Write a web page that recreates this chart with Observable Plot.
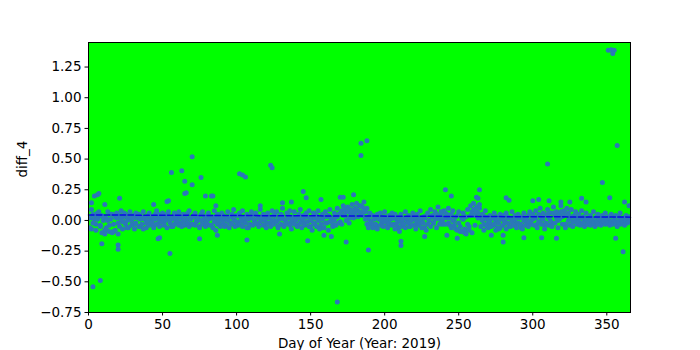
<!DOCTYPE html>
<html>
<head>
<meta charset="utf-8">
<script src="https://cdn.jsdelivr.net/npm/d3@7"></script>
<script src="https://cdn.jsdelivr.net/npm/@observablehq/plot@0.6"></script>
<style>
  html, body { margin: 0; padding: 0; background: white; }
  #chart { width: 700px; height: 350px; }
</style>
</head>
<body>
<div id="chart"></div>
<script>
// Main daily series (two readings per day, day = index + 1)
const diffA = [
0.02,-0.07,0.05,0.01,-0.03,0.06,0.03,-0.05,0.04,0.00,-0.08,0.02,0.07,-0.04,0.01,0.05,-0.09,0.03,0.06,-0.02,0.04,0.08,-0.01,0.03,0.05,-0.06,0.02,0.07,0.00,0.04,
-0.03,0.06,0.02,0.05,-0.05,0.03,0.07,0.01,-0.02,0.04,0.06,0.00,0.03,-0.04,0.05,0.08,0.02,-0.01,0.04,0.06,-0.03,0.02,0.05,0.07,0.01,-0.05,0.03,0.06,0.00,0.04,
0.07,-0.02,0.03,0.05,-0.04,0.01,0.06,0.08,0.02,-0.03,0.04,0.06,0.00,0.03,-0.05,0.05,0.07,0.01,-0.02,0.04,0.06,0.02,-0.04,0.03,0.08,0.00,0.05,-0.03,0.02,0.06,
0.04,-0.05,0.01,0.07,0.03,-0.02,0.05,0.09,0.00,0.04,-0.04,0.06,0.02,0.08,-0.01,0.03,0.05,-0.06,0.02,0.07,0.04,0.00,0.06,-0.03,0.03,0.09,0.01,0.05,-0.04,0.02,
0.06,0.03,-0.02,0.08,0.04,0.00,0.07,-0.05,0.02,0.05,0.10,0.01,-0.03,0.06,0.04,0.08,-0.01,0.03,0.07,0.02,-0.04,0.05,0.09,0.00,0.04,-0.02,0.06,0.03,0.08,-0.05,
0.02,0.06,-0.03,0.04,0.08,0.01,-0.06,0.05,0.03,0.07,-0.02,0.04,0.09,0.00,-0.04,0.06,0.03,0.10,0.05,-0.01,0.08,0.12,0.04,0.07,0.11,0.02,0.09,0.13,0.06,0.10,
0.14,0.08,0.12,0.05,0.11,0.15,0.07,0.10,0.03,0.06,-0.03,0.04,0.02,-0.05,0.05,0.01,0.06,-0.02,0.03,0.07,0.00,-0.04,0.04,0.02,0.06,-0.03,0.05,0.01,-0.06,0.03,
0.05,-0.02,0.02,0.07,0.00,0.04,-0.05,0.03,0.06,0.01,-0.03,0.05,0.02,0.08,-0.01,0.03,-0.06,0.04,0.06,0.00,0.09,0.03,-0.02,0.07,0.05,0.11,0.01,0.04,-0.03,0.08,
0.06,0.02,0.10,-0.04,0.05,0.08,0.00,-0.07,0.04,0.07,-0.09,0.02,0.06,-0.10,0.03,0.09,-0.05,0.12,0.07,0.14,0.04,0.11,0.06,0.13,0.02,0.05,-0.03,0.08,0.01,-0.06,
0.04,0.02,-0.04,0.06,0.00,0.03,-0.07,0.05,0.01,0.04,-0.02,0.06,0.03,-0.05,0.02,0.07,0.00,0.04,-0.03,0.05,0.02,-0.06,0.03,0.06,0.01,-0.02,0.04,0.07,0.00,0.05,
0.03,0.08,-0.03,0.05,0.10,0.01,0.06,-0.04,0.04,0.09,0.02,0.06,-0.02,0.11,0.04,0.07,0.00,0.05,0.12,0.03,0.08,-0.03,0.10,0.06,0.02,0.09,-0.01,0.04,0.07,0.01,
0.05,-0.02,0.08,0.03,0.00,0.06,0.02,-0.03,0.04,0.01,0.07,-0.01,0.03,0.05,0.00,-0.02,0.04,0.02,0.06,-0.01,0.03,0.00,0.05,-0.02,0.02,0.04,-0.01,0.03,0.06,0.00,0.02,-0.02,0.04,0.01,0.03
];
const diffB = [
-0.06,0.09,-0.02,0.04,-0.08,0.01,0.07,-0.04,-0.10,0.03,-0.11,-0.06,0.00,-0.09,0.05,-0.10,-0.03,-0.08,0.02,-0.11,-0.05,0.01,-0.07,0.06,-0.03,0.00,-0.06,0.03,-0.04,0.02,
-0.07,-0.02,0.04,-0.05,0.01,-0.03,-0.07,0.02,-0.06,0.00,-0.04,0.03,-0.02,-0.06,0.01,-0.03,0.05,-0.05,-0.01,0.02,-0.04,0.00,-0.06,0.03,-0.02,0.01,-0.05,-0.03,0.02,-0.01,
-0.04,0.02,-0.05,0.00,-0.03,0.04,-0.02,-0.05,0.01,-0.03,0.03,-0.04,-0.01,0.02,-0.06,0.00,-0.03,0.03,-0.05,-0.02,0.01,-0.04,0.02,-0.06,-0.01,0.03,-0.03,0.00,-0.05,0.01,
-0.02,0.02,-0.04,0.00,-0.06,0.03,-0.03,0.01,-0.05,-0.01,0.04,-0.03,0.00,-0.05,0.02,-0.02,-0.06,0.01,-0.03,0.03,-0.04,0.00,-0.02,0.02,-0.05,-0.01,0.03,-0.04,0.00,-0.06,
-0.02,0.02,-0.05,0.00,-0.03,0.04,-0.01,-0.06,0.01,-0.03,0.03,-0.05,0.00,-0.02,0.02,-0.04,-0.07,0.01,-0.03,0.00,-0.05,0.02,-0.02,-0.06,0.01,-0.04,0.03,-0.01,-0.05,0.00,
-0.08,-0.02,0.02,-0.05,0.00,-0.07,-0.03,0.01,-0.06,-0.02,0.03,-0.08,-0.01,0.02,-0.05,0.00,-0.04,0.03,-0.02,0.06,-0.03,0.04,0.09,0.00,0.07,-0.02,0.05,0.08,0.02,0.06,
0.09,0.03,0.07,0.12,0.04,0.08,0.01,-0.03,-0.06,0.00,-0.02,-0.06,0.01,-0.03,-0.07,0.02,-0.04,0.00,-0.05,-0.01,0.03,-0.06,-0.02,0.01,-0.04,0.02,-0.07,-0.03,-0.01,0.00,
-0.05,0.01,-0.03,-0.06,0.02,-0.02,-0.05,0.00,-0.04,0.03,-0.07,-0.01,-0.04,0.01,-0.06,-0.02,0.02,-0.08,-0.03,0.00,-0.05,0.04,-0.02,0.01,-0.06,0.03,-0.03,0.07,-0.01,0.02,
-0.03,0.05,-0.02,0.02,-0.06,0.00,-0.04,0.03,-0.08,-0.02,-0.05,-0.09,0.01,-0.07,-0.11,-0.03,-0.08,0.04,-0.10,0.09,-0.04,0.07,0.02,0.10,-0.05,0.00,-0.08,0.03,-0.05,-0.02,
-0.01,-0.05,0.02,-0.03,-0.08,0.01,-0.02,-0.06,0.03,-0.04,0.00,-0.07,-0.02,0.02,-0.05,-0.01,-0.04,0.01,-0.06,-0.02,0.03,-0.03,-0.07,0.00,-0.04,0.02,-0.05,-0.01,-0.03,0.01,
-0.04,0.02,-0.06,-0.01,0.04,-0.03,0.01,-0.07,-0.02,0.05,-0.04,0.00,-0.05,0.06,-0.02,0.02,-0.06,0.01,0.07,-0.03,0.04,-0.06,0.05,0.00,-0.04,0.03,-0.05,-0.01,0.02,-0.03,
-0.01,-0.04,0.02,-0.02,-0.05,0.01,-0.03,-0.01,-0.04,0.00,-0.02,-0.05,-0.01,-0.03,0.01,-0.04,-0.02,-0.01,-0.03,0.00,-0.02,-0.04,-0.01,-0.03,0.00,-0.02,-0.05,-0.01,-0.03,0.01,-0.02,-0.04,0.00,-0.02,-0.01
];
// Outlying readings [day, diff_4]
const outlierDays = [2,3,4,6,7,8,9,11,20,20,21,44,47,48,53,54,55,56,63,65,65,66,70,70,75,76,79,83,84,86,86,87,
102,104,106,107,116,123,124,129,131,137,145,147,148,157,159,164,168,170,172,174,179,184,184,188,189,
210,211,211,227,241,242,245,249,262,263,264,272,276,280,280,282,284,294,300,304,306,310,311,316,319,325,333,336,347,351,353,355,354,352,356,357,361,362,365];
const outlierVals = [0.145,-0.54,0.20,0.21,0.22,-0.49,-0.19,0.13,-0.20,-0.235,0.18,0.13,-0.15,-0.14,0.155,0.16,-0.27,0.39,0.405,0.32,0.22,0.225,0.52,0.29,-0.15,0.35,0.20,0.20,0.20,0.12,-0.08,-0.12,
0.38,0.37,0.355,-0.16,0.12,0.45,0.43,-0.11,0.145,0.15,0.235,0.185,-0.165,0.17,-0.12,-0.13,-0.665,0.19,0.19,-0.175,0.21,0.63,0.53,0.65,-0.24,
-0.09,-0.17,-0.205,-0.13,0.25,-0.12,0.20,-0.145,0.19,0.18,0.25,-0.12,-0.06,-0.12,-0.175,0.185,0.165,-0.14,0.16,0.17,-0.14,0.46,0.16,-0.145,0.15,0.15,0.18,0.15,0.31,1.386,1.39,1.386,1.36,0.185,-0.145,0.61,-0.255,0.15,0.12];
// Linear trend (dashed)
const trendDays = [0, 366];
const trendVals = [0.045, 0.027];

const xTicks = [0, 50, 100, 150, 200, 250, 300, 350];
const yTicks = [-0.75, -0.5, -0.25, 0, 0.25, 0.5, 0.75, 1.0, 1.25];

const points = [];
diffA.forEach((v, i) => points.push({day: i + 1, value: v}));
diffB.forEach((v, i) => points.push({day: i + 1, value: v}));
outlierDays.forEach((d, i) => points.push({day: d, value: outlierVals[i]}));
const trend = trendDays.map((d, i) => ({day: d, value: trendVals[i]}));

const fmt = d3.format(".2f");

const chart = Plot.plot({
  width: 700,
  height: 350,
  marginLeft: 88,
  marginRight: 70,
  marginTop: 42,
  marginBottom: 38,
  style: {fontFamily: "DejaVu Sans", fontSize: "13.5px", background: "white", color: "black", overflow: "visible"},
  x: {domain: [0, 366]},
  y: {domain: [-0.75, 1.45]},
  marks: [
    Plot.frame({fill: "#00ff00"}),
    Plot.dot(points, {x: "day", y: "value", r: 2.5, fill: "#2a78b8", stroke: "none", clip: true}),
    Plot.line(trend, {x: "day", y: "value", stroke: "#0a0ae6", strokeWidth: 1.5, strokeDasharray: "5.5,2.4"}),
    Plot.frame({stroke: "black", strokeWidth: 1}),
    Plot.axisX({ticks: xTicks, tickSize: 3.5, tickPadding: 3.5, tickFormat: d => String(d), label: null, fontSize: 13.5}),
    Plot.axisY({ticks: yTicks, tickSize: 3.5, tickPadding: 3.5, tickFormat: fmt, label: null, fontSize: 13.5}),
    Plot.text(["Day of Year (Year: 2019)"], {frameAnchor: "bottom", dy: 31, text: d => d, fontSize: 13.5, lineAnchor: "middle"}),
    Plot.text(["diff_4"], {frameAnchor: "left", dx: -66, rotate: -90, text: d => d, fontSize: 13.5})
  ]
});
document.getElementById("chart").appendChild(chart);
</script>
</body>
</html>
